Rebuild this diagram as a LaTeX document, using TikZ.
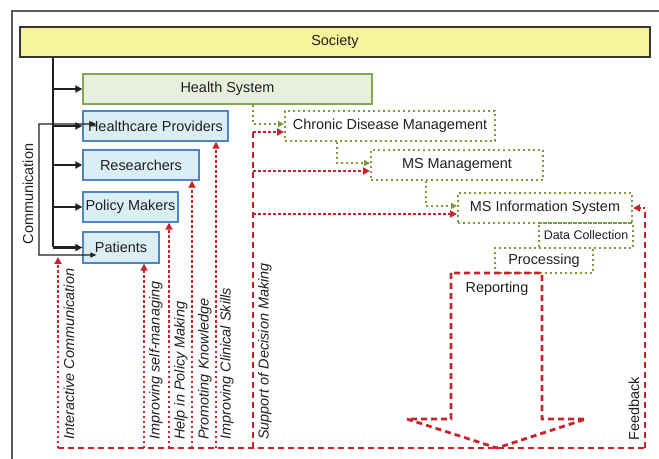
\documentclass[tikz,border=0pt]{standalone}
\usepackage{fontspec}
\setmainfont{Liberation Sans}
\usetikzlibrary{arrows.meta}

\definecolor{socfill}{HTML}{F7F39B}
\definecolor{hsfill}{HTML}{E8F0DD}
\definecolor{hsline}{HTML}{85A550}
\definecolor{grpfill}{HTML}{DAEEF5}
\definecolor{grpline}{HTML}{4D86C6}
\definecolor{msgreen}{HTML}{7A9A3A}
\definecolor{fbred}{HTML}{C8232C}
\definecolor{ink}{HTML}{231F20}

\begin{document}
\begin{tikzpicture}[x=1bp,y=-1bp,
  every node/.style={font=\fontsize{14.5}{17}\selectfont, text=ink, inner sep=0pt},
  box/.style={draw, rectangle, minimum height=30bp},
  group/.style={box, draw=grpline, fill=grpfill, line width=1.3bp},
  mstage/.style={box, draw=msgreen, line width=2bp, dash pattern=on 2bp off 3bp},
  feed/.style={ink, line width=2.4bp, -{Triangle[length=7bp,width=7bp]}},
  gconn/.style={msgreen, line width=2bp, dash pattern=on 2bp off 3bp, -{Triangle[length=6bp,width=6bp]}},
  rconn/.style={fbred, line width=2.5bp, dash pattern=on 2.5bp off 2.5bp, -{Triangle[length=7bp,width=7bp]}},
  rdash/.style={fbred, line width=2.8bp, dash pattern=on 6bp off 4bp},
  vlabel/.style={rotate=90, anchor=west, font=\fontsize{14.5}{17}\selectfont\itshape}]
  \useasboundingbox (0,0) rectangle (659,459);

  % frame
  \draw[ink!75, line width=1.4bp] (12,459) |- (659,11);

  % society and the groups inside it
  \node[box, fill=socfill, draw=ink!90, line width=1.6bp, minimum width=630bp] (society) at (335,42) {Society};
  \node[box, fill=hsfill, draw=hsline, line width=1.3bp, minimum width=289bp] (health) at (227.5,89) {Health System};
  \node[group, minimum width=145bp] (hcp) at (155.5,126) {Healthcare Providers};
  \node[group, minimum width=116bp] (res) at (141,165) {Researchers};
  \node[group, minimum width=95bp] (pol) at (130.5,207) {Policy Makers};
  \node[group, minimum width=76bp, minimum height=31bp] (pat) at (121,247.5) {Patients};

  % trunk from society
  \coordinate (trunk) at (53,0);
  \draw[ink, line width=1.6bp] (society.south -| trunk) -- (trunk |- pat.west);
  \foreach \b in {health,hcp,res,pol,pat}
    \draw[feed] (trunk |- \b.west) -- (\b.west);

  % communication loop
  \coordinate (cb) at (39,255);
  \draw[ink, line width=1.1bp, {Triangle[length=6bp,width=5bp]}-{Triangle[length=6bp,width=5bp]}]
    ([shift={(14bp,2bp)}]hcp.west) -| (cb) -- ([shift={(14bp,-7.5bp)}]pat.west);
  \node[rotate=90] (comm) at (28,194) {Communication};

  % MS chain
  \node[mstage, minimum width=210bp] (cdm) at (390,126) {Chronic Disease Management};
  \node[mstage, minimum width=172bp] (msm) at (457,165) {MS Management};
  \node[mstage, minimum width=174bp] (msis) at (545,208) {MS Information System};
  \node[mstage, minimum width=94bp, minimum height=25bp, font=\fontsize{12.5}{15}\selectfont] (dc) at (586,235.5) {Data Collection};
  \node[mstage, minimum width=98bp, minimum height=25bp] (proc) at (544,260.5) {Processing};

  \draw[gconn] ([xshift=25.5bp]health.south) |- ([yshift=2bp]cdm.west);
  \draw[gconn] ([xshift=53bp]cdm.south west) |- ([yshift=2bp]msm.west);
  \draw[gconn] ([xshift=56bp]msm.south west) |- ([yshift=2bp]msis.west);

  % reporting arrow
  \draw[rdash] (451,273) -- (451,419) -- (407,419) -- (497,448) -- (586,419) -- (542,419) -- (542,273) -- cycle;
  \node (rep) at (497,289) {Reporting};

  % feet on the return line
  \coordinate (ic) at (58,448);
  \coordinate (ism) at (144,448);
  \coordinate (hpm) at (169,448);
  \coordinate (pk) at (192,448);
  \coordinate (ics) at (216,448);
  \coordinate (sdm) at (253,448);
  \coordinate (fb) at (645,448);

  \draw[rdash] (ic) -- (fb);
  \draw[rconn, shorten >=2bp] (ic) -- (ic |- cb);
  \draw[rconn] (ism) -- (ism |- pat.south);
  \draw[rconn] (hpm) -- (hpm |- pol.south);
  \draw[rconn] (pk) -- (pk |- res.south);
  \draw[rconn] (ics) -- (ics |- hcp.south);

  % decision support
  \draw[rdash] (sdm) -- ([yshift=-6bp]sdm |- cdm.west);
  \foreach \m in {cdm,msm,msis}
    \draw[rconn] ([yshift=-6bp]sdm |- \m.west) -- ([yshift=-6bp]\m.west);

  % feedback
  \draw[rdash] (fb) -- (fb |- msis.east);
  \draw[rconn] (fb |- msis.east) -- (msis.east);

  \node[vlabel] (l1) at (69,440) {Interactive Communication};
  \node[vlabel] (l2) at (156,440) {Improving self-managing};
  \node[vlabel] (l3) at (181,440) {Help in Policy Making};
  \node[vlabel] (l4) at (205,440) {Promoting Knowledge};
  \node[vlabel] (l5) at (227,440) {Improving Clinical Skills};
  \node[vlabel] (l6) at (265,440) {Support of Decision Making};
  \node[rotate=90, anchor=west] (fbl) at (634,441) {Feedback};
\end{tikzpicture}
\end{document}
